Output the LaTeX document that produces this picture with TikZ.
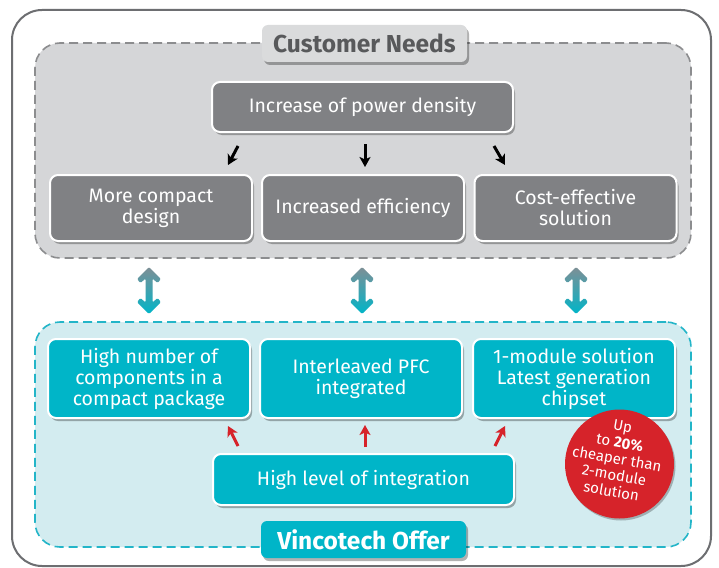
\documentclass[tikz,border=0pt]{standalone}
\usepackage{fontspec}
\setmainfont{Fira Sans}
\usetikzlibrary{shadows,arrows.meta,calc}
\definecolor{outerc}{HTML}{6D6E71}
\definecolor{greyreg}{HTML}{D5D6D8}
\definecolor{greydash}{HTML}{8C8D8F}
\definecolor{greybox}{HTML}{808184}
\definecolor{labgrey}{HTML}{DADBDC}
\definecolor{labtext}{HTML}{58595B}
\definecolor{tealbox}{HTML}{00B5C8}
\definecolor{tealreg}{HTML}{D3ECF0}
\definecolor{tealdash}{HTML}{23B5C8}
\definecolor{redc}{HTML}{D6232A}
\definecolor{arrgrey}{HTML}{7E8F96}
\newcommand\twoway[2]{%
\shade[top color=arrgrey,bottom color=tealbox,rounded corners=1.2pt]
 (#1) -- ([shift={(12,12)}]#1) -- ([shift={(8.5,16)}]#1) -- ([shift={(3.5,11.5)}]#1)
 -- ([shift={(3.5,-11.5)}]#2) -- ([shift={(8.5,-16)}]#2) -- ([shift={(12,-12)}]#2) -- (#2)
 -- ([shift={(-12,-12)}]#2) -- ([shift={(-8.5,-16)}]#2) -- ([shift={(-3.5,-11.5)}]#2)
 -- ([shift={(-3.5,11.5)}]#1) -- ([shift={(-8.5,16)}]#1) -- ([shift={(-12,12)}]#1) -- cycle;}
\begin{document}
\begin{tikzpicture}[x=1pt,y=-1pt,
  boxshadow/.style={drop shadow={shadow xshift=2pt,shadow yshift=-3pt,opacity=0.3,fill=black}},
  region/.style={rounded corners=25pt,line width=1.6pt,dash pattern=on 9pt off 5pt},
  greyregion/.style={region,fill=greyreg,draw=greydash},
  tealregion/.style={region,fill=tealreg,draw=tealdash},
  gbox/.style={boxshadow,rectangle,rounded corners=8pt,fill=greybox,draw=white,line width=2pt,
     text=white,align=center,font=\fontsize{19.5}{21}\selectfont,inner sep=0pt},
  tbox/.style={gbox,fill=tealbox},
  glabel/.style={boxshadow,rectangle,rounded corners=6pt,fill=labgrey,text=labtext,
     font=\fontsize{24.5}{28}\selectfont\bfseries,inner sep=0pt,minimum width=205,minimum height=37},
  tlabel/.style={glabel,fill=tealbox,text=white},
  blackarr/.style={draw=black,line width=3pt,-{Stealth[length=10pt,width=11pt,inset=2.5pt]}},
  redarr/.style={draw=redc,line width=3pt,-{Stealth[length=10pt,width=11pt,inset=2.5pt]}}
]
\useasboundingbox (0,0) rectangle (719,567);
\fill[white] (0,0) rectangle (719,567);
% outer frame
\node[draw=outerc,line width=2pt,rounded corners=30pt,minimum width=699,minimum height=556,inner sep=0pt] (frame) at (361.5,288) {};
% regions
\node[greyregion,minimum width=656,minimum height=215,inner sep=0pt] (cnreg) at (363,150.5) {};
\node[tealregion,minimum width=656,minimum height=225,inner sep=0pt] (voreg) at (363,434.5) {};
% labels
\node[glabel] (cnlab) at (364.5,43.5) {Customer Needs};
\node[tlabel] (volab) at (363.5,539.5) {Vincotech Offer};
% customer needs boxes
\node[gbox,minimum width=301,minimum height=50] (top) at (362.5,107) {Increase of power density};
\node[gbox,minimum width=202,minimum height=66] (b1) at (151,208) {More compact\\design};
\node[gbox,minimum width=202,minimum height=66] (b2) at (363,208) {Increased efficiency};
\node[gbox,minimum width=202,minimum height=66] (b3) at (575.5,208) {Cost-effective\\solution};
% offer boxes
\node[tbox,minimum width=202,minimum height=79] (o1) at (149,378.5) {High number of\\components in a\\compact package};
\node[tbox,minimum width=202,minimum height=79] (o2) at (361,378.5) {Interleaved PFC\\integrated};
\node[tbox,minimum width=202,minimum height=79] (o3) at (574,378.5) {1-module solution\\Latest generation\\chipset};
\node[tbox,minimum width=301,minimum height=51] (integ) at (363.5,479.5) {High level of integration};
% black arrows
\coordinate (k1s) at (238,146); \coordinate (k1e) at (228,165);
\coordinate (k2s) at (365,144); \coordinate (k2e) at (365,167);
\coordinate (k3s) at (494,146); \coordinate (k3e) at (505,165);
\draw[blackarr] (k1s) -- (k1e);
\draw[blackarr] (k2s) -- (k2e);
\draw[blackarr] (k3s) -- (k3e);
% red arrows
\coordinate (r1s) at (238,446); \coordinate (r1e) at (228,426);
\coordinate (r2s) at (365,447); \coordinate (r2e) at (365,425);
\coordinate (r3s) at (495,446); \coordinate (r3e) at (505,426);
\draw[redarr] (r1s) -- (r1e);
\draw[redarr] (r2s) -- (r2e);
\draw[redarr] (r3s) -- (r3e);
% double arrows
\coordinate (d1t) at (149,267); \coordinate (d1b) at (149,314);
\coordinate (d2t) at (362,267); \coordinate (d2b) at (362,314);
\coordinate (d3t) at (576,267); \coordinate (d3b) at (576,314);
\twoway{d1t}{d1b}
\twoway{d2t}{d2b}
\twoway{d3t}{d3b}
% red badge
\node[circle,fill=redc,minimum size=109,inner sep=0pt,drop shadow={shadow xshift=1.5pt,shadow yshift=-2pt,opacity=0.25,fill=black}] (badge) at (619.5,464) {};
\node[text=white,align=center,rotate=-10,font=\fontsize{15}{16.5}\selectfont,inner sep=0pt] (badgetxt) at (617,459)
 {Up\\to {\bfseries 20\%}\\cheaper than\\2-module\\solution};
\end{tikzpicture}
\end{document}
